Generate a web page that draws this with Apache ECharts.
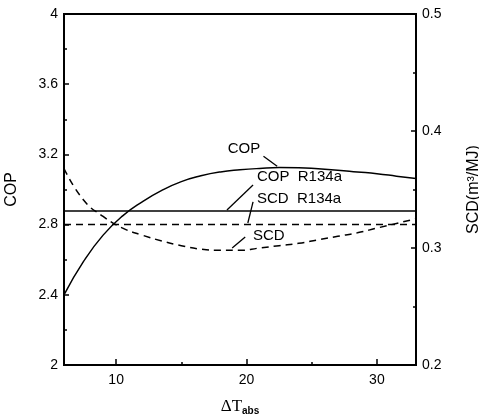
<!DOCTYPE html>
<html><head><meta charset="utf-8">
<script src="https://cdn.jsdelivr.net/npm/echarts@6/dist/echarts.min.js"></script>
<style>html,body{margin:0;padding:0;background:#fff}#c{width:479px;height:420px}</style>
</head><body><div id="c"></div>
<script>
// ---- data ----
const xValues   = [6, 7.5, 9, 10.5, 12, 13.5, 15, 16.5, 18, 19.5, 21, 22.5, 24, 25.5, 27, 28.5, 30, 31.5, 33];
const copValues = [2.40, 2.59, 2.74, 2.85, 2.93, 2.995, 3.045, 3.078, 3.10, 3.112, 3.12, 3.125, 3.124, 3.118, 3.11, 3.10, 3.09, 3.076, 3.062];
const scdValues = [0.368, 0.341, 0.327, 0.317, 0.311, 0.306, 0.302, 0.299, 0.298, 0.298, 0.300, 0.302, 0.304, 0.307, 0.310, 0.313, 0.317, 0.321, 0.325];
const refX = [6, 33];
const copR134a = [2.877, 2.877];
const scdR134a = [0.32, 0.32];
const xMajorTicks = [10, 20, 30];
const xMinorTicks = [15, 25];
// annotation texts and anchors (data coords: x, COP)
const annotations = [
  {text: 'COP',        at: [19.8, 3.231], align: 'center', line: [[21.3, 3.19], [22.35, 3.133]]},
  {text: 'COP  R134a', at: [20.8, 3.071], align: 'left',   line: [[20.5, 3.026], [18.5, 2.883]]},
  {text: 'SCD  R134a', at: [20.8, 2.946], align: 'left',   line: [[20.5, 2.929], [20.1, 2.809]]},
  {text: 'SCD',        at: [20.5, 2.735], align: 'left',   line: [[19.9, 2.729], [18.9, 2.667]]}
];

const zip = (a, b) => a.map((v, i) => [v, b[i]]);
const FONT = 'Liberation Sans';
const chart = echarts.init(document.getElementById('c'));
const axisCommon = {
  axisLine: {show: true, lineStyle: {color: '#000', width: 2}},
  splitLine: {show: false},
  axisLabel: {color: '#000', fontFamily: FONT, fontSize: 14},
  nameTextStyle: {color: '#000', fontFamily: FONT, fontSize: 16}
};
chart.setOption({
  animation: false,
  grid: {left: 64, right: 63, top: 14, bottom: 55, containLabel: false, outerBoundsMode: 'none',
         show: true, borderColor: '#000', borderWidth: 2, backgroundColor: 'transparent'},
  xAxis: [
    Object.assign({}, axisCommon, {
      type: 'value', min: 6, max: 33, position: 'bottom',
      axisTick: {show: true, inside: true, length: 6, lineStyle: {color: '#000', width: 1.5}, customValues: xMajorTicks},
      axisLabel: Object.assign({}, axisCommon.axisLabel, {customValues: xMajorTicks, margin: 8}),
      name: '{a|ΔT}{b|abs}', nameLocation: 'middle', nameGap: 33,
      nameTextStyle: {rich: {a: {fontFamily: 'Liberation Serif', fontSize: 17, color: '#000'},
                             b: {fontFamily: FONT, fontSize: 10, fontWeight: 'bold', color: '#000', padding: [8, 0, 0, 0]}}}
    }),
    {type: 'value', min: 6, max: 33, position: 'bottom', axisLine: {show: false}, splitLine: {show: false},
     axisLabel: {show: false}, axisTick: {show: true, inside: true, length: 3, lineStyle: {color: '#000', width: 1.5}, customValues: xMinorTicks}}
  ],
  yAxis: [
    Object.assign({}, axisCommon, {
      type: 'value', min: 2, max: 4, interval: 0.4, position: 'left',
      axisTick: {show: true, inside: true, length: 5, lineStyle: {color: '#000', width: 1.5}},
      minorTick: {show: true, splitNumber: 2, length: 3, lineStyle: {color: '#000', width: 1.5}},
      axisLabel: Object.assign({}, axisCommon.axisLabel, {margin: 6}),
      name: 'COP', nameLocation: 'middle', nameGap: 44
    }),
    Object.assign({}, axisCommon, {
      type: 'value', min: 0.2, max: 0.5, interval: 0.1, position: 'right',
      axisTick: {show: true, inside: true, length: 5, lineStyle: {color: '#000', width: 1.5}},
      minorTick: {show: true, splitNumber: 2, length: 3, lineStyle: {color: '#000', width: 1.5}},
      axisLabel: Object.assign({}, axisCommon.axisLabel, {margin: 6}),
      name: 'SCD(m³/MJ)', nameLocation: 'middle', nameGap: 50, nameRotate: 90
    })
  ],
  series: [
    {type: 'line', name: 'COP', data: zip(xValues, copValues), smooth: true, showSymbol: false, xAxisIndex: 0, yAxisIndex: 0,
     lineStyle: {color: '#000', width: 1.5}},
    {type: 'line', name: 'SCD', data: zip(xValues, scdValues), smooth: true, showSymbol: false, xAxisIndex: 0, yAxisIndex: 1,
     lineStyle: {color: '#000', width: 1.5, type: [7, 5]}},
    {type: 'line', name: 'COP R134a', data: zip(refX, copR134a), showSymbol: false, xAxisIndex: 0, yAxisIndex: 0,
     lineStyle: {color: '#000', width: 1.5}},
    {type: 'line', name: 'SCD R134a', data: zip(refX, scdR134a), showSymbol: false, xAxisIndex: 0, yAxisIndex: 1,
     lineStyle: {color: '#000', width: 1.5, type: [7, 5]}}
  ]
});
const px = p => chart.convertToPixel({xAxisIndex: 0, yAxisIndex: 0}, p);
const g = [];
annotations.forEach(a => {
  const p = px(a.at);
  g.push({type: 'text', x: p[0], y: p[1], style: {text: a.text, fill: '#000', font: '15px "Liberation Sans"', textAlign: a.align, textVerticalAlign: 'middle'}});
  const p1 = px(a.line[0]), p2 = px(a.line[1]);
  g.push({type: 'line', shape: {x1: p1[0], y1: p1[1], x2: p2[0], y2: p2[1]}, style: {stroke: '#000', lineWidth: 1.3}});
});
chart.setOption({graphic: g});
</script></body></html>
